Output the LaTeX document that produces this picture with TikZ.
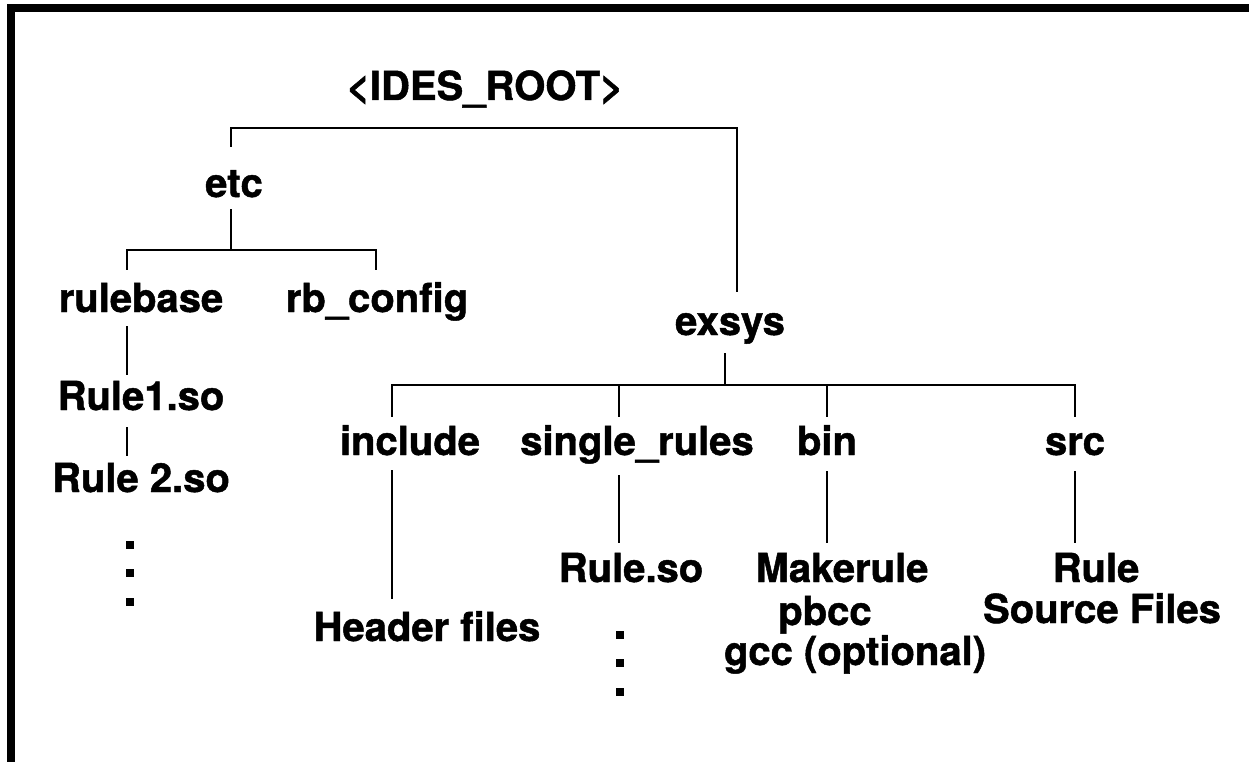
\documentclass[tikz,border=0pt]{standalone}
\usepackage{fontspec}
\setmainfont{TeX Gyre Heros}[BoldFeatures={FakeBold=1.2}]
\newcommand{\dirfont}{\fontsize{40}{40}\selectfont\bfseries}

\begin{document}
\begin{tikzpicture}[x=1pt,y=-1pt,
  dir/.style={font=\dirfont, anchor=base, inner sep=0pt, text height=28pt, text depth=8pt},
  link/.style={line width=2pt},
  frame/.style={line width=8pt}]
  \useasboundingbox (0,0) rectangle (1249,762);
  \draw[frame] (11,762) -- (11,8) -- (1249,8);

  % columns the tree lines run down
  \coordinate (etccol) at (231,0);
  \coordinate (rbcol) at (127,0);
  \coordinate (rbccol) at (376,0);
  \coordinate (execol) at (737,0);
  \coordinate (exdcol) at (725,0);
  \coordinate (inccol) at (392,0);
  \coordinate (sglcol) at (619,0);
  \coordinate (bincol) at (827,0);
  \coordinate (srccol) at (1075,0);
  % branch bars
  \coordinate (rootbar) at (485,128);
  \coordinate (etcbar) at (231,250);
  \coordinate (exsysbar) at (725,385);

  \node[dir] (root) at (485,100) {<IDES\_ROOT>};
  \node[dir] (etc) at (234,197) {etc};
  \node[dir] (rulebase) at (141,312) {rulebase};
  \node[dir] (rbconfig) at (377,312) {rb\_config};
  \node[dir] (ruleone) at (141,410) {Rule1.so};
  \node[dir] (ruletwo) at (141,492) {Rule 2.so};
  \node[dir] (exsys) at (730,335) {exsys};
  \node[dir] (include) at (410,455) {include};
  \node[dir] (single) at (637,455) {single\_rules};
  \node[dir] (bin) at (827,455) {bin};
  \node[dir] (src) at (1075,455) {src};
  \node[dir] (header) at (427,641) {Header files};
  \node[dir] (ruleso) at (631,582) {Rule.so};
  \node[dir] (makerule) at (842,582) {Makerule};
  \node[dir] (pbcc) at (825,625) {pbcc};
  \node[dir] (gcc) at (855,665) {gcc (optional)};
  \node[dir] (rule) at (1096,582) {Rule};
  \node[dir] (srcfiles) at (1102,623) {Source Files};

  % <IDES_ROOT> branches
  \draw[link, shorten <=22pt, shorten >=15pt] (etc.north -| etccol) |- (rootbar) -| (exsys.north -| execol);
  % etc branches
  \draw[link, shorten <=4pt] (etc.south -| etccol) -- (etcbar);
  \draw[link, shorten <=14pt, shorten >=14pt] (rulebase.north -| rbcol) |- (etcbar) -| (rbconfig.north -| rbccol);
  \draw[link, shorten <=6pt, shorten >=7pt] (rulebase.south -| rbcol) -- (ruleone.north -| rbcol);
  \draw[link, shorten <=9pt, shorten >=8pt] (ruleone.south -| rbcol) -- (ruletwo.north -| rbcol);
  \foreach \y in {545,573,602}
    \fill (126,\y-4) rectangle ++(8,8);

  % exsys branches
  \draw[link, shorten <=10pt] (exsys.south -| exdcol) -- (exsysbar);
  \draw[link, shorten <=10pt, shorten >=10pt] (include.north -| inccol) |- (exsysbar) -| (src.north -| srccol);
  \draw[link, shorten <=10pt] (single.north -| sglcol) -- (exsysbar -| sglcol);
  \draw[link, shorten <=10pt] (bin.north -| bincol) -- (exsysbar -| bincol);
  \draw[link, shorten <=7pt, shorten >=14pt] (include.south -| inccol) -- (header.north -| inccol);
  \draw[link, shorten <=12pt, shorten >=11pt] (single.south -| sglcol) -- (ruleso.north -| sglcol);
  \draw[link, shorten <=8pt, shorten >=11pt] (bin.south -| bincol) -- (makerule.north -| bincol);
  \draw[link, shorten <=8pt, shorten >=11pt] (src.south -| srccol) -- (rule.north -| srccol);
  \foreach \y in {635,663,692}
    \fill (616,\y-4) rectangle ++(8,8);
\end{tikzpicture}
\end{document}
